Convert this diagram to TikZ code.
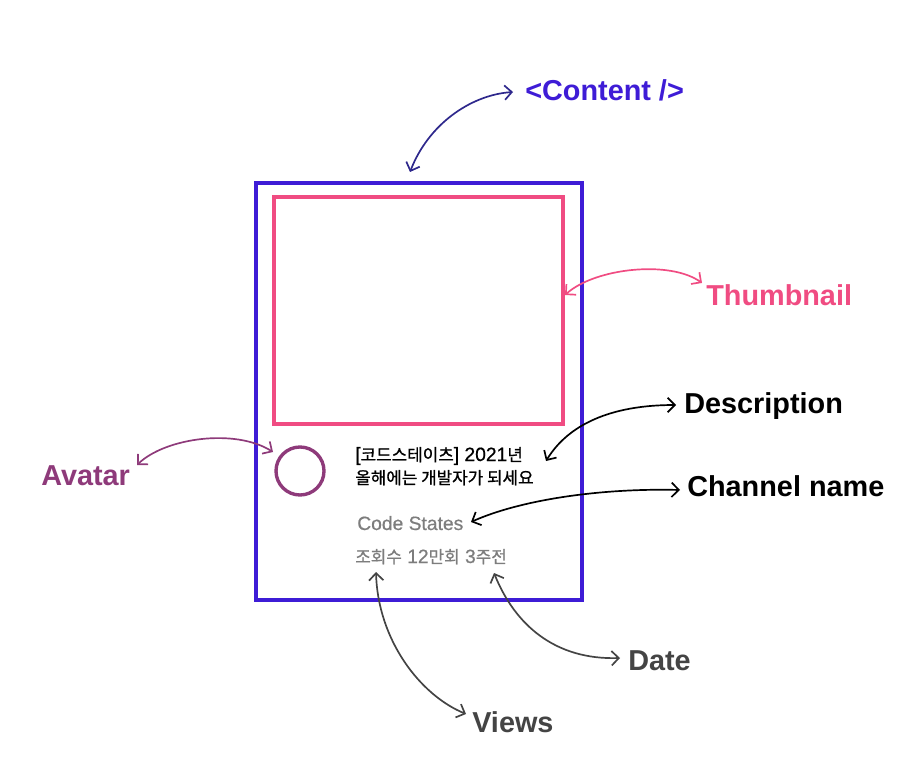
\documentclass[tikz,border=0pt]{standalone}
\usepackage{fontspec}
\setmainfont{Liberation Sans}
\newfontfamily\krfont[FakeBold=0.9]{Noto Sans CJK KR}
\newfontfamily\latfont[FakeBold=0.6]{Liberation Sans}
\newcommand{\lsf}[1]{{\latfont\fontsize{13.7}{16}\selectfont #1}}
\usetikzlibrary{arrows.meta}
\definecolor{frameblue}{RGB}{62,28,214}
\definecolor{contentnavy}{RGB}{46,40,140}
\definecolor{thumbpink}{RGB}{240,76,130}
\definecolor{avatarpurple}{RGB}{142,58,122}
\definecolor{metagray}{RGB}{125,125,125}
\definecolor{labelgray}{RGB}{68,68,68}
\tikzset{
  card/.style={draw=frameblue,line width=2.8pt},            % outer content box
  thumb/.style={draw=thumbpink,line width=2.8pt},           % thumbnail box
  ring/.style={draw=avatarpurple,line width=2.4pt},         % avatar circle
  tag/.style={font=\fontsize{20.5}{24}\selectfont\bfseries,inner sep=0pt,anchor=base west},
  cardtext/.style={font=\krfont\fontsize{12}{16}\selectfont,inner sep=0pt,anchor=base west},
  link/.style={{Straight Barb[length=1.8mm,width=3.6mm]}-{Straight Barb[length=1.8mm,width=3.6mm]},line width=1.2pt},
}

\begin{document}
\begin{tikzpicture}[x=0.025cm,y=-0.025cm]
  \useasboundingbox (0,0) rectangle (906,766);
  % card
  \draw[card] (256,183) rectangle (582,600);
  \draw[thumb] (274,197) rectangle (563,424);
  \draw[ring] (300,471) circle (24);
  \node[cardtext] (desca) at (355,461) {\lsf{[}코드스테이츠\lsf{] 2021}년};
  \node[cardtext] (descb) at (355,484) {올해에는 개발자가 되세요};
  \node[cardtext,metagray] (chan) at (357,530) {\lsf{Code States}};
  \node[cardtext,metagray] (meta) at (355,563) {조회수\lsf{ 12}만회\lsf{ 3}주전};
  % labels
  \node[tag,frameblue] (content) at (525,101) {<Content />};
  \node[tag,thumbpink] (thumbnail) at (706,306) {Thumbnail};
  \node[tag] (description) at (684,414) {Description};
  \node[tag] (channel) at (687,496) {Channel name};
  \node[tag,avatarpurple] (avatar) at (41,485) {Avatar};
  \node[tag,labelgray] (date) at (628,670) {Date};
  \node[tag,labelgray] (views) at (472,732) {Views};
  % arrow ends
  \coordinate (cardtop) at (410,172);  \coordinate (contentend) at (513,92);
  \coordinate (thumbedge) at (565,295); \coordinate (thumbend) at (702,283);
  \coordinate (avatarend) at (137,465); \coordinate (ringedge) at (273,452);
  \coordinate (descend) at (546,461);  \coordinate (descto) at (676,405);
  \coordinate (chanend) at (471,522);  \coordinate (chanto) at (680,490);
  \coordinate (viewsat) at (376,572);  \coordinate (viewsto) at (466,714);
  \coordinate (dateat) at (494,573);   \coordinate (dateto) at (620,658);
  % arrows
  \draw[link,contentnavy] (cardtop) .. controls (428,125) and (470,95) .. (contentend);
  \draw[link,thumbpink] (thumbedge) .. controls (595,268) and (670,260) .. (thumbend);
  \draw[link,avatarpurple] (avatarend) .. controls (165,438) and (235,428) .. (ringedge);
  \draw[link,black] (descend) .. controls (568,425) and (610,405) .. (descto);
  \draw[link,black] (chanend) .. controls (520,500) and (600,488) .. (chanto);
  \draw[link,labelgray] (viewsat) .. controls (378,640) and (420,695) .. (viewsto);
  \draw[link,labelgray] (dateat) .. controls (515,625) and (555,660) .. (dateto);
\end{tikzpicture}
\end{document}
